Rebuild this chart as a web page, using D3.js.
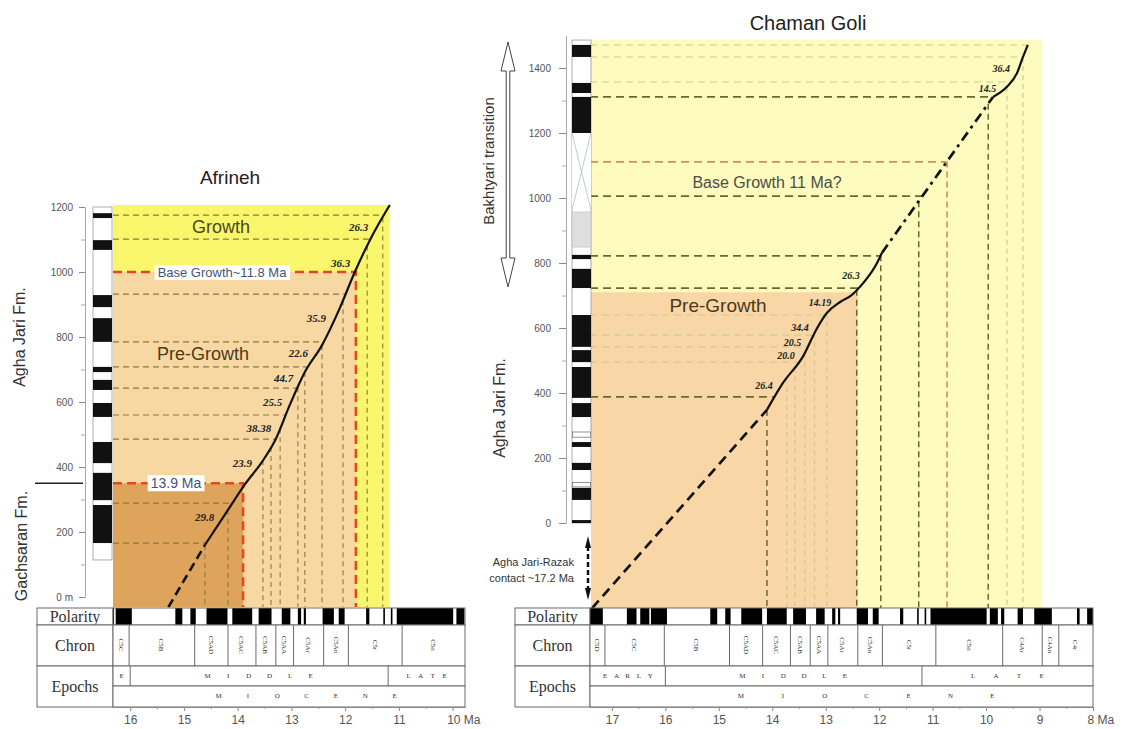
<!DOCTYPE html>
<html><head><meta charset="utf-8">
<script src="https://cdnjs.cloudflare.com/ajax/libs/d3/7.8.5/d3.min.js"></script>
<style>body{margin:0;background:#fff}</style>
</head><body>
<svg id="c" width="1122" height="729" xmlns="http://www.w3.org/2000/svg"></svg>
<script>
// ---------------- DATA ----------------
// Geomagnetic polarity timescale: normal intervals [older, younger] Ma
const polarityNormal = [[17.41,17.17],[16.72,16.54],[16.47,16.30],[16.27,15.97],[15.16,15.03],[14.88,14.78],[14.58,14.19],[14.10,13.73],[13.61,13.37],[13.18,13.02],[12.88,12.82],[12.77,12.73],[12.42,12.21],[12.12,12.01],[11.61,11.55],[11.29,11.26],[11.15,11.12],[11.04,9.99],[9.93,9.78],[9.72,9.66],[9.41,9.31],[9.10,8.77],[8.30,8.25],[8.11,8.0]];
const chronNames  = ["C5D","C5C","C5B","C5AD","C5AC","C5AB","C5AA","C5Ar","C5An","C5r","C5n","C4Ar","C4An","C4r"];
const chronBounds = [17.6,17.13,16.02,14.8,14.18,13.66,13.29,12.96,12.4,11.94,10.94,9.69,8.95,8.64,7.9];
const epochNames  = ["EARLY","MIDDLE","LATE"];
const epochBounds = [17.6,16.0,11.2,7.9];
const seriesName  = "MIOCENE";

// Afrineh section
const afrAges   = [15.29,14.61,14.18,13.86,13.55,13.30,13.03,12.75,12.43,12.10,11.82,11.54,11.17];
const afrDepths = [-31,160,268,348,415,483,591,692,775,889,1000,1098,1206];
const afrGuideDepths = [1175,1101,932,785,708,643,560,486,289,166];
const afrGuideAges   = [14.61,14.18,13.53,13.38,13.21,12.88,12.75,12.43,12.04,11.59,11.30];
const afrBoundaryAges   = [13.9,11.8];
const afrBoundaryDepths = [350,1000];
const afrRateLabels = ["29.8","23.9","38.38","25.5","44.7","22.6","35.9","36.3","26.3"];
const afrRateDepths = [246,412,520,600,674,751,858,1028,1138];
const afrNormalZones = [[1181,1166],[1098,1068],[929,892],[858,785],[708,692],[668,637],[597,554],[477,412],[382,298],[283,166]];
const afrColumnRange = [114,1200];
const afrYTicks = [0,200,400,600,800,1000,1200];
const afrXTicks = [16,15,14,13,12,11,10];

// Chaman Goli section
const cgAges   = [17.37,14.10,13.80,13.43,13.16,12.98,12.73,12.51,12.30,12.04,11.95,9.87,9.61,9.42,9.31,9.22];
const cgDepths = [-262,348,431,511,600,646,680,702,738,800,831,1311,1342,1385,1434,1471];
const cgDarkDepths  = [1311,1006,822,723,388];
const cgLightDepths = [1471,1434,1357,640,578,542,495];
const cgRedDepths   = [1111];
const cgDarkAges    = [14.10,12.42,11.97,11.26,9.96];
const cgLightAges   = [13.73,13.58,13.39,13.21,12.98,9.61,9.31];
const cgRedAges     = [10.73];
const cgPreGrowthAge = 12.4, cgPreGrowthDepth = 710, cgYellowEndAge = 8.95;
const cgRateLabels = ["26.4","20.0","20.5","34.4","14.19","26.3","14.5","36.4"];
const cgRateDepths = [425,517,557,603,680,763,1338,1400];
const cgNormalZones = [[1471,1434],[1354,1323],[1311,1200],[825,812],[782,723],[640,542],[532,495],[480,385],[369,326],[249,234],[185,163],[108,71],[9,0]];
const cgUncertainZones = [[280,264],[125,111]];
const cgGrayZone = [849,957];
const cgGapZone = [963,1200];
const cgColumnRange = [0,1486];
const cgYTicks = [0,200,400,600,800,1000,1200,1400];
const cgXTicks = [17,16,15,14,13,12,11,10,9,8];

// ---------------- HELPERS ----------------
const svg = d3.select("#c");
function interp(xs, ys, v){
  for(let i=0;i<xs.length-1;i++){
    const a=xs[i], b=xs[i+1];
    if((v-a)*(v-b)<=0 && a!==b) return ys[i]+(ys[i+1]-ys[i])*(v-a)/(b-a);
  }
  return ys[ys.length-1];
}
const ageAtDepth = (ages,depths,d)=>interp(depths,ages,d);
const depthAtAge = (ages,depths,t)=>interp(ages,depths,t);

function line(g, x, y, pts, style){
  const l = d3.line().x(d=>x(d[0])).y(d=>y(d[1]));
  const p = g.append("path").attr("d", l(pts)).attr("fill","none");
  for(const k in style) p.attr(k, style[k]);
  return p;
}
function smooth(g,x,y,pts){
  const l=d3.line().x(d=>x(d[0])).y(d=>y(d[1])).curve(d3.curveMonotoneX);
  return g.append("path").attr("d",l(pts.slice().reverse())).attr("fill","none").attr("stroke","#111").attr("stroke-width",2.2);
}

function drawTimescale(x, boxLeft, t0, t1, ticks, unitLabel){
  const g = svg.append("g");
  const xl = x(t0), xr = x(t1);
  const rows = {p0:608,p1:625,c1:666,e1:686,e2:707};
  const stroke = "#6a6a6a";
  [[rows.p0,rows.p1,"Polarity"],[rows.p1,rows.c1,"Chron"],[rows.c1,rows.e2,"Epochs"]].forEach(r=>{
    g.append("rect").attr("x",boxLeft).attr("y",r[0]).attr("width",xl-boxLeft).attr("height",r[1]-r[0])
      .attr("fill","#fff").attr("stroke",stroke).attr("stroke-width",1);
    g.append("text").attr("x",(boxLeft+xl)/2).attr("y",(r[0]+r[1])/2+5).attr("text-anchor","middle")
      .attr("font-family","Liberation Serif").attr("font-size",16).attr("fill","#333").text(r[2]);
  });
  g.append("rect").attr("x",xl).attr("y",rows.p0).attr("width",xr-xl).attr("height",rows.p1-rows.p0).attr("fill","#fff");
  polarityNormal.forEach(p=>{
    const a=Math.min(p[0],t0), b=Math.max(p[1],t1);
    if(a<=b) return;
    g.append("rect").attr("x",x(a)).attr("y",rows.p0).attr("width",Math.max(0.8,x(b)-x(a))).attr("height",rows.p1-rows.p0).attr("fill","#000");
  });
  g.append("rect").attr("x",xl).attr("y",rows.p0).attr("width",xr-xl).attr("height",rows.p1-rows.p0).attr("fill","none").attr("stroke",stroke);
  g.append("rect").attr("x",xl).attr("y",rows.p1).attr("width",xr-xl).attr("height",rows.c1-rows.p1).attr("fill","#fff").attr("stroke",stroke);
  chronNames.forEach((n,i)=>{
    const a=Math.min(chronBounds[i],t0), b=Math.max(chronBounds[i+1],t1);
    if(x(b)-x(a)<6) return;
    if(chronBounds[i+1]>t1) g.append("line").attr("x1",x(chronBounds[i+1])).attr("x2",x(chronBounds[i+1])).attr("y1",rows.p1).attr("y2",rows.c1).attr("stroke",stroke);
    const cx=(x(a)+x(b))/2;
    g.append("text").attr("transform",`translate(${cx-2.5},${rows.p1+20}) rotate(90)`).attr("text-anchor","middle")
      .attr("font-family","Liberation Serif").attr("font-size",7).attr("fill","#333").text(n);
  });
  g.append("rect").attr("x",xl).attr("y",rows.c1).attr("width",xr-xl).attr("height",rows.e1-rows.c1).attr("fill","#fff").attr("stroke",stroke);
  g.append("rect").attr("x",xl).attr("y",rows.e1).attr("width",xr-xl).attr("height",rows.e2-rows.e1).attr("fill","#fff").attr("stroke",stroke);
  function spaced(word, cx, span, yy){
    const n=word.length;
    for(let i=0;i<n;i++){
      g.append("text").attr("x",n>1?cx-span/2+i*span/(n-1):cx).attr("y",yy).attr("text-anchor","middle")
        .attr("font-family","Liberation Serif").attr("font-size",7).attr("fill","#333").text(word[i]);
    }
  }
  epochNames.forEach((n,i)=>{
    const a=Math.min(epochBounds[i],t0), b=Math.max(epochBounds[i+1],t1);
    if(a<=b) return;
    const w=x(b)-x(a);
    if(epochBounds[i+1]>t1) g.append("line").attr("x1",x(epochBounds[i+1])).attr("x2",x(epochBounds[i+1])).attr("y1",rows.c1).attr("y2",rows.e1).attr("stroke",stroke);
    const word = w<30 ? n[0] : n;
    spaced(word,(x(a)+x(b))/2, word.length>1?Math.min(w*0.75,Math.max(w*0.4,word.length*9)):0, rows.c1+12);
  });
  spaced(seriesName,(xl+xr)/2+(xr-xl)*0.05,(xr-xl)*0.5,rows.e1+12);
  const ax = g.append("g").attr("transform",`translate(0,${rows.e2})`)
    .call(d3.axisBottom(x).tickValues(ticks).tickSize(4).tickSizeOuter(0).tickPadding(4).tickFormat(d=>String(d)));
  ax.select(".domain").attr("stroke","#888");
  ax.selectAll(".tick line").attr("stroke","#888");
  ax.selectAll(".tick text").attr("font-family","Arial").attr("font-size",12).attr("fill","#555");
  const last = ax.selectAll(".tick text").filter(d=>d===ticks[ticks.length-1]);
  last.attr("text-anchor","start").attr("dx",-6).text(d=>d+" "+unitLabel);
  const minors=[]; for(let v=Math.ceil(t1*2)/2; v<=t0; v+=0.5){ if(!ticks.includes(v)) minors.push(v);} 
  const mx = g.append("g").attr("transform",`translate(0,${rows.e2})`)
    .call(d3.axisBottom(x).tickValues(minors).tickSize(2).tickFormat(""));
  mx.select(".domain").remove(); mx.selectAll(".tick line").attr("stroke","#999");
}

function drawColumn(y, x0, x1, range, normals){
  const g=svg.append("g");
  g.append("rect").attr("x",x0).attr("y",y(range[1])).attr("width",x1-x0).attr("height",y(range[0])-y(range[1]))
    .attr("fill","#fff").attr("stroke","#999").attr("stroke-width",0.8);
  normals.forEach(z=>g.append("rect").attr("x",x0).attr("y",y(z[0])).attr("width",x1-x0).attr("height",y(z[1])-y(z[0])).attr("fill","#111"));
  return g;
}

function drawYAxis(y, xpos, ticks, tickSize, pad, zeroLabel){
  const g=svg.append("g").attr("transform",`translate(${xpos},0)`)
    .call(d3.axisLeft(y).tickValues(ticks).tickSize(tickSize).tickSizeOuter(0).tickPadding(pad).tickFormat(d=>d===0?zeroLabel:d));
  g.select(".domain").attr("stroke","#aaa");
  g.selectAll(".tick line").attr("stroke","#888");
  g.selectAll(".tick text").attr("font-family","Arial").attr("font-size",10).attr("fill","#555");
  const minors=ticks.slice(0,-1).map(v=>v+100);
  const m=svg.append("g").attr("transform",`translate(${xpos},0)`).call(d3.axisLeft(y).tickValues(minors).tickSize(4).tickFormat(""));
  m.select(".domain").remove(); m.selectAll(".tick line").attr("stroke","#aaa");
}

function rateLabels(g,x,y,ages,depths,labels,ds,size){
  labels.forEach((t,i)=>{
    const d=ds[i];
    g.append("text").attr("x",x(ageAtDepth(ages,depths,d))-9).attr("y",y(d)+4).attr("text-anchor","end")
      .attr("font-family","Liberation Serif").attr("font-style","italic").attr("font-weight","bold")
      .attr("font-size",size).attr("fill","#222").text(t);
  });
}

// ================= AFRINEH =================
{
  const x = d3.scaleLinear().domain([16.32,9.77]).range([113,465]);
  const y = d3.scaleLinear().domain([0,1200]).range([597,207]);
  const tL=16.32, tR=11.17, dB=-31, dT=1206;
  const g=svg.append("g");
  g.append("rect").attr("x",x(tL)).attr("y",y(dT)).attr("width",x(tR)-x(tL)).attr("height",y(dB)-y(dT)).attr("fill","#faf66c");
  g.append("rect").attr("x",x(tL)).attr("y",y(afrBoundaryDepths[1])).attr("width",x(afrBoundaryAges[1])-x(tL)).attr("height",y(dB)-y(afrBoundaryDepths[1])).attr("fill","#f8d8a2");
  g.append("rect").attr("x",x(tL)).attr("y",y(afrBoundaryDepths[0])).attr("width",x(afrBoundaryAges[0])-x(tL)).attr("height",y(dB)-y(afrBoundaryDepths[0])).attr("fill","#dea45c");
  const gs={stroke:"#8c7a3c","stroke-width":1.2,"stroke-dasharray":"6,4"};
  afrGuideDepths.forEach(d=>line(g,x,y,[[tL,d],[ageAtDepth(afrAges,afrDepths,d),d]],gs));
  afrGuideAges.forEach(t=>line(g,x,y,[[t,depthAtAge(afrAges,afrDepths,t)],[t,dB]],{stroke:"#8c7a3c","stroke-width":1.1,"stroke-dasharray":"5,4"}));
  afrBoundaryAges.forEach((t,i)=>{
    const d=afrBoundaryDepths[i];
    line(g,x,y,[[tL,d],[t,d],[t,dB]],{stroke:"#e8471e","stroke-width":2.6,"stroke-dasharray":"9,5"});
  });
  const pts=afrAges.map((a,i)=>[a,afrDepths[i]]);
  line(g,x,y,pts.slice(0,2),{stroke:"#111","stroke-width":2.6,"stroke-dasharray":"9,5"});
  smooth(g,x,y,pts.slice(1));
  rateLabels(g,x,y,afrAges,afrDepths,afrRateLabels,afrRateDepths,11);
  [[afrBoundaryDepths[1],"Base Growth~11.8 Ma",222,13],[afrBoundaryDepths[0],"13.9 Ma",176,14]].forEach(b=>{
    const t=g.append("text").attr("x",b[2]).attr("y",y(b[0])+5).attr("text-anchor","middle")
      .attr("font-family","Arial").attr("font-size",b[3]).attr("fill","#44557a").text(b[1]);
    const bb=t.node().getBBox();
    g.insert("rect","text:last-child").attr("x",bb.x-3).attr("y",bb.y).attr("width",bb.width+6).attr("height",bb.height).attr("fill","#fff");
  });
  g.append("text").attr("x",221).attr("y",233).attr("text-anchor","middle").attr("font-family","Arial").attr("font-size",18).attr("fill","#4a4620").text("Growth");
  g.append("text").attr("x",203).attr("y",360).attr("text-anchor","middle").attr("font-family","Arial").attr("font-size",18).attr("fill","#4a3a1c").text("Pre-Growth");
  drawColumn(y,93,112,afrColumnRange,afrNormalZones);
  drawYAxis(y,85,afrYTicks,6,6,"0 m");
  svg.append("text").attr("transform",`translate(25,337) rotate(-90)`).attr("text-anchor","middle").attr("font-family","Arial").attr("font-size",16).attr("fill","#333").text("Agha Jari Fm.");
  svg.append("text").attr("transform",`translate(27,546) rotate(-90)`).attr("text-anchor","middle").attr("font-family","Arial").attr("font-size",16).attr("fill","#333").text("Gachsaran Fm.");
  svg.append("line").attr("x1",35).attr("x2",83).attr("y1",y(afrBoundaryDepths[0])).attr("y2",y(afrBoundaryDepths[0])).attr("stroke","#222").attr("stroke-width",1.5);
  svg.append("text").attr("x",230).attr("y",184).attr("text-anchor","middle").attr("font-family","Arial").attr("font-size",19).attr("fill","#222").text("Afrineh");
  drawTimescale(x,37,16.32,9.77,afrXTicks,"Ma");
}

// ================= CHAMAN GOLI =================
{
  const x = d3.scaleLinear().domain([17.41,8]).range([590,1093]);
  const y = d3.scaleLinear().domain([0,1500]).range([523,35.5]);
  const tL=17.41, dB=-262, dT=1486;
  const g=svg.append("g");
  g.append("rect").attr("x",x(tL)+1).attr("y",y(dT)).attr("width",x(cgYellowEndAge)-x(tL)-1).attr("height",y(dB)-y(dT)).attr("fill","#fdfbbd");
  g.append("rect").attr("x",x(tL)+1).attr("y",y(cgPreGrowthDepth)).attr("width",x(cgPreGrowthAge)-x(tL)-1).attr("height",y(dB)-y(cgPreGrowthDepth)).attr("fill","#f9d6a6");
  const H=(arr,st)=>arr.forEach(d=>line(g,x,y,[[tL,d],[ageAtDepth(cgAges,cgDepths,d),d]],st));
  const V=(arr,st)=>arr.forEach(t=>line(g,x,y,[[t,depthAtAge(cgAges,cgDepths,t)],[t,dB]],st));
  H(cgLightDepths,{stroke:"#cfcb8e","stroke-width":1.1,"stroke-dasharray":"7,5"});
  V(cgLightAges,{stroke:"#cfc58e","stroke-width":1.1,"stroke-dasharray":"5,4"});
  H(cgDarkDepths,{stroke:"#6e6830","stroke-width":1.7,"stroke-dasharray":"8,5"});
  V(cgDarkAges,{stroke:"#6e6830","stroke-width":1.5,"stroke-dasharray":"6,4"});
  H(cgRedDepths,{stroke:"#d98a55","stroke-width":1.7,"stroke-dasharray":"8,5"});
  V(cgRedAges,{stroke:"#d98a55","stroke-width":1.6,"stroke-dasharray":"6,4"});
  const pts=cgAges.map((a,i)=>[a,cgDepths[i]]);
  line(g,x,y,pts.slice(0,2),{stroke:"#111","stroke-width":2.7,"stroke-dasharray":"10,6"});
  smooth(g,x,y,pts.slice(1,11));
  line(g,x,y,pts.slice(10,12),{stroke:"#111","stroke-width":2.7,"stroke-dasharray":"10,5,3,5"});
  smooth(g,x,y,pts.slice(11));
  rateLabels(g,x,y,cgAges,cgDepths,cgRateLabels,cgRateDepths,10);
  g.append("text").attr("x",767).attr("y",188).attr("text-anchor","middle").attr("font-family","Arial").attr("font-size",16).attr("fill","#4d4d44").text("Base Growth 11 Ma?");
  g.append("text").attr("x",718).attr("y",312).attr("text-anchor","middle").attr("font-family","Arial").attr("font-size",19).attr("fill","#4a3a1c").text("Pre-Growth");
  const cg=drawColumn(y,572,591,cgColumnRange,cgNormalZones);
  cg.append("rect").attr("x",572).attr("y",y(cgGrayZone[1])).attr("width",19).attr("height",y(cgGrayZone[0])-y(cgGrayZone[1])).attr("fill","#dedede").attr("stroke","#bbb").attr("stroke-width",0.6);
  cg.append("rect").attr("x",572).attr("y",y(cgGapZone[1])).attr("width",19).attr("height",y(cgGapZone[0])-y(cgGapZone[1])).attr("fill","#fff");
  cg.append("path").attr("d",`M572,${y(cgGapZone[1])}L591,${y(cgGapZone[0])}M591,${y(cgGapZone[1])}L572,${y(cgGapZone[0])}`).attr("stroke","#b9c4cc").attr("stroke-width",0.9);
  cgUncertainZones.forEach(z=>cg.append("rect").attr("x",572.5).attr("y",y(z[0])).attr("width",18).attr("height",y(z[1])-y(z[0])).attr("fill","#fff").attr("stroke","#777").attr("stroke-width",0.8));
  drawYAxis(y,566,cgYTicks,7,8,"0");
  svg.append("path").attr("d","M508,42 L515,71 L509.8,71 L509.8,258 L515,258 L508,287 L501,258 L506.2,258 L506.2,71 L501,71 Z")
    .attr("fill","#fff").attr("stroke","#444").attr("stroke-width",1);
  svg.append("line").attr("x1",588).attr("x2",588).attr("y1",546).attr("y2",590).attr("stroke","#111").attr("stroke-width",2.5).attr("stroke-dasharray","5,3");
  svg.append("path").attr("d","M588,536 L591,548 L585,548 Z M588,600 L591,588 L585,588 Z").attr("fill","#111");
  svg.append("text").attr("x",574).attr("y",566).attr("text-anchor","end").attr("font-family","Arial").attr("font-size",11).attr("fill","#333").text("Agha Jari-Razak");
  svg.append("text").attr("x",574).attr("y",582).attr("text-anchor","end").attr("font-family","Arial").attr("font-size",11).attr("fill","#333").text("contact ~17.2 Ma");
  svg.append("text").attr("transform",`translate(494,161) rotate(-90)`).attr("text-anchor","middle").attr("font-family","Arial").attr("font-size",15).attr("fill","#333").text("Bakhtyari transition");
  svg.append("text").attr("transform",`translate(505,408) rotate(-90)`).attr("text-anchor","middle").attr("font-family","Arial").attr("font-size",16).attr("fill","#333").text("Agha Jari Fm.");
  svg.append("text").attr("x",808).attr("y",30).attr("text-anchor","middle").attr("font-family","Arial").attr("font-size",20).attr("fill","#222").text("Chaman Goli");
  drawTimescale(x,515,17.41,8,cgXTicks,"Ma");
}
</script>
</body></html>
